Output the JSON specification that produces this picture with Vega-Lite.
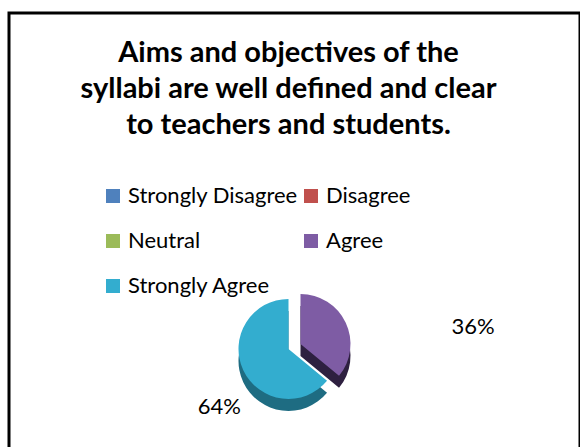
{
  "$schema": "https://vega.github.io/schema/vega-lite/v6.json",
  "width": 580,
  "height": 447,
  "autosize": {"type": "fit", "contains": "padding"},
  "padding": {"left": 9, "top": 13, "right": 0, "bottom": -8},
  "background": "white",
  "view": {"stroke": "black", "strokeWidth": 3, "fill": "white"},
  "config": {"font": "Lato"},
  "title": {
    "text": ["Aims and objectives of the", "syllabi are well defined and clear", "to teachers and students."],
    "fontSize": 29,
    "fontWeight": "bold",
    "font": "Lato",
    "lineHeight": 36,
    "offset": -127,
    "anchor": "middle",
    "color": "black",
    "dx": -6
  },
  "data": {
    "values": [
      {"category": "Strongly Disagree", "value": 0, "o": 1, "label": ""},
      {"category": "Disagree", "value": 0, "o": 2, "label": ""},
      {"category": "Neutral", "value": 0, "o": 3, "label": ""},
      {"category": "Agree", "value": 36, "o": 4, "label": "36%"},
      {"category": "Strongly Agree", "value": 64, "o": 5, "label": "64%"}
    ]
  },
  "layer": [
    {
      "transform": [
        {"stack": "value", "groupby": [], "sort": [{"field": "o", "order": "ascending"}], "as": ["s0", "s1"]},
        {"filter": "datum.category !== 'Agree'"}
      ],
      "mark": {"type": "arc", "radius": 50, "fill": "#1E6C82", "x": {"expr": "width/2-6"}, "y": {"expr": "height*0.76+12"}},
      "encoding": {
        "theta": {"field": "s0", "type": "quantitative", "scale": {"domain": [0, 100]}},
        "theta2": {"field": "s1"}
      }
    },
    {
      "transform": [
        {"stack": "value", "groupby": [], "sort": [{"field": "o", "order": "ascending"}], "as": ["s0", "s1"]},
        {"filter": "datum.category === 'Agree'"}
      ],
      "mark": {"type": "arc", "radius": 50, "fill": "#2E2040", "x": {"expr": "width/2+6"}, "y": {"expr": "height*0.76+7"}},
      "encoding": {
        "theta": {"field": "s0", "type": "quantitative", "scale": {"domain": [0, 100]}},
        "theta2": {"field": "s1"}
      }
    },
    {
      "transform": [
        {"stack": "value", "groupby": [], "sort": [{"field": "o", "order": "ascending"}], "as": ["s0", "s1"]},
        {"filter": "datum.category !== 'Agree'"}
      ],
      "mark": {"type": "arc", "radius": 50, "x": {"expr": "width/2-6"}, "y": {"expr": "height*0.76"}},
      "encoding": {
        "theta": {"field": "s0", "type": "quantitative", "scale": {"domain": [0, 100]}},
        "theta2": {"field": "s1"},
        "color": {"field": "category", "type": "nominal",
          "scale": {"domain": ["Strongly Disagree", "Disagree", "Neutral", "Agree", "Strongly Agree"],
                    "range": ["#4F81BD", "#C0504D", "#9BBB59", "#7E5CA4", "#33ADCF"]},
          "legend": {"orient": "none", "legendX": 93, "legendY": 172, "columns": 2, "direction": "horizontal", "title": null,
            "values": ["Strongly Disagree", "Disagree", "Neutral", "Agree", "Strongly Agree"],
            "symbolType": "square", "symbolSize": 196, "symbolStrokeWidth": 0, "symbolOpacity": 1,
            "labelFontSize": 22, "labelFont": "Lato", "labelColor": "black", "labelOffset": 4,
            "rowPadding": 23, "columnPadding": 2, "labelLimit": 300}}
      }
    },
    {
      "transform": [
        {"stack": "value", "groupby": [], "sort": [{"field": "o", "order": "ascending"}], "as": ["s0", "s1"]},
        {"filter": "datum.category === 'Agree'"}
      ],
      "mark": {"type": "arc", "radius": 50, "x": {"expr": "width/2+6"}, "y": {"expr": "height*0.76-5"}},
      "encoding": {
        "theta": {"field": "s0", "type": "quantitative", "scale": {"domain": [0, 100]}},
        "theta2": {"field": "s1"},
        "color": {"field": "category", "type": "nominal"}
      }
    },
    {
      "mark": {"type": "text", "radius": 100, "x": {"expr": "width/2-6"}, "y": {"expr": "height*0.76"}, "dx": 94, "dy": 21, "fontSize": 22, "font": "Lato", "color": "black"},
      "encoding": {
        "theta": {"field": "value", "type": "quantitative", "stack": true, "scale": {"domain": [0, 100]}},
        "order": {"field": "o", "type": "quantitative"},
        "text": {"condition": {"test": "datum.category === 'Agree'", "field": "label"}, "value": ""}
      }
    },
    {
      "mark": {"type": "text", "radius": 92, "x": {"expr": "width/2-6"}, "y": {"expr": "height*0.76"}, "dx": 14, "dy": 19, "fontSize": 22, "font": "Lato", "color": "black"},
      "encoding": {
        "theta": {"field": "value", "type": "quantitative", "stack": true, "scale": {"domain": [0, 100]}},
        "order": {"field": "o", "type": "quantitative"},
        "text": {"condition": {"test": "datum.category === 'Strongly Agree'", "field": "label"}, "value": ""}
      }
    }
  ]
}
